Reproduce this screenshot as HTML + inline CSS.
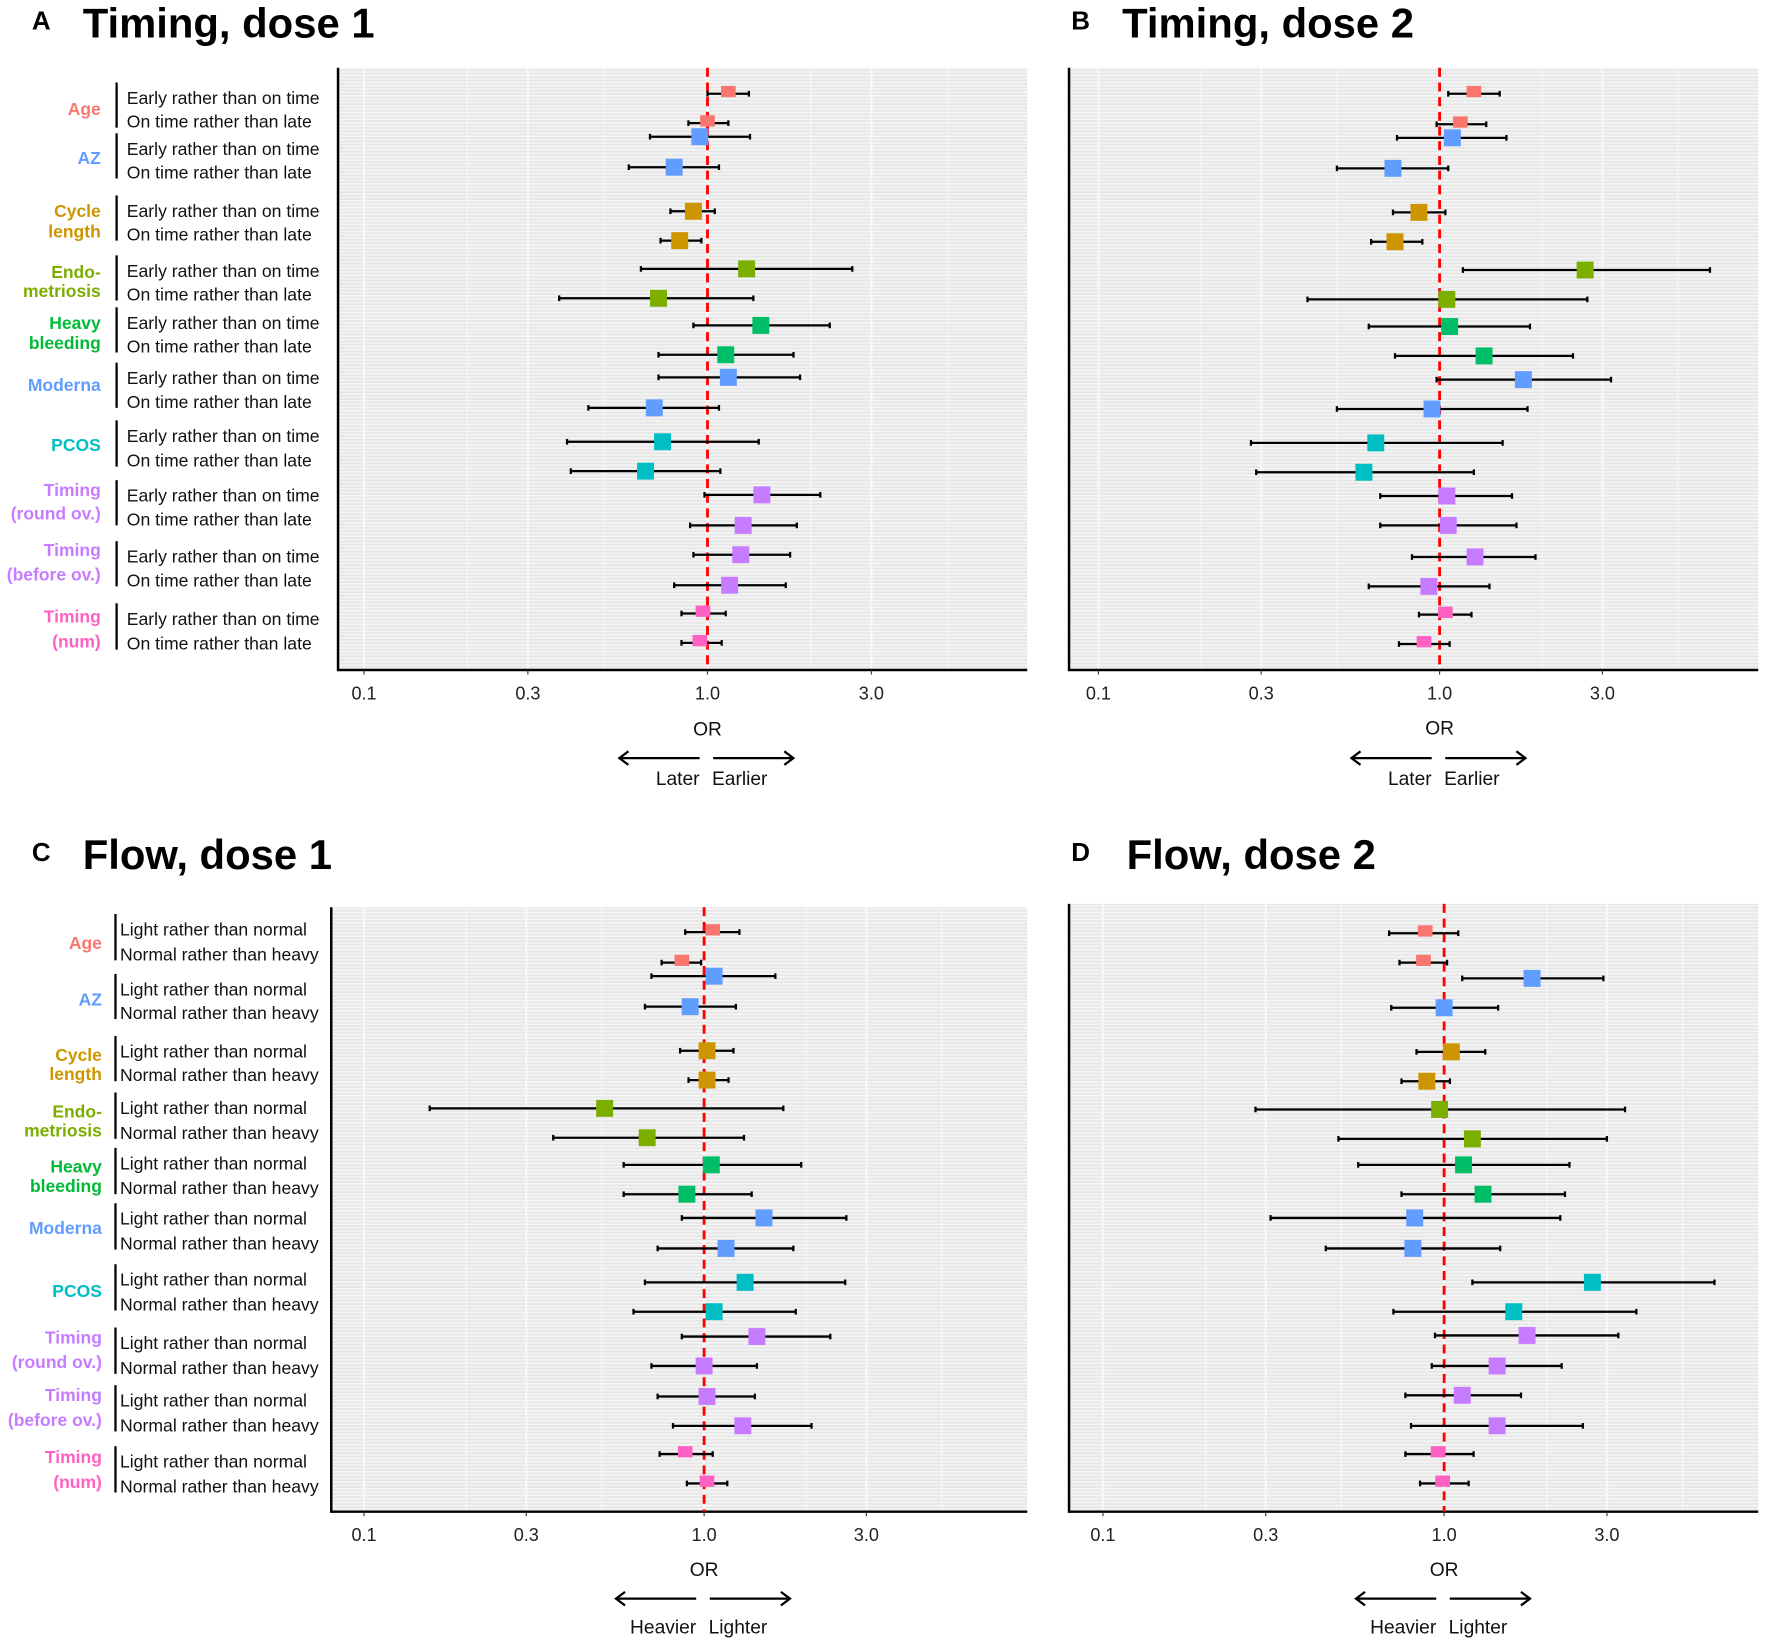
<!DOCTYPE html>
<html><head><meta charset="utf-8"><style>
html,body{margin:0;padding:0;background:#fff}
svg{display:block;font-family:"Liberation Sans",Arial,sans-serif}
</style></head><body>
<svg id="fig" width="1772" height="1645" viewBox="0 0 1568 1456" xmlns="http://www.w3.org/2000/svg">
<defs>
<pattern id="stripes" width="10" height="3" patternUnits="userSpaceOnUse">
<rect width="10" height="3" fill="#e6e6e6"/><rect width="10" height="1.4" fill="#f5f5f5"/>
</pattern>
</defs>
</svg>
<script>
const groups = ["Age","AZ","Cycle length","Endo-metriosis","Heavy bleeding","Moderna","PCOS","Timing (round ov.)","Timing (before ov.)","Timing (num)"];
const groupColors = ["#F8766D","#619CFF","#CD9600","#7CAE00","#00BA38","#619CFF","#00BFC4","#C77CFF","#C77CFF","#FF61C3"];
const markColors = ["#F8766D","#619CFF","#CD9600","#7CAE00","#00BE67","#619CFF","#00BFC4","#C77CFF","#C77CFF","#FF61C3"];
const ticks = [0.1,0.3,1.0,3.0];
const tickLabels = ["0.1","0.3","1.0","3.0"];
const timingRows = ["Early rather than on time","On time rather than late"];
const flowRows = ["Light rather than normal","Normal rather than heavy"];
// OR, lower, upper for each of 20 rows (group x 2)
const orA = [1.15,1.0,0.95,0.80,0.91,0.83,1.30,0.72,1.43,1.13,1.15,0.70,0.74,0.66,1.44,1.27,1.25,1.16,0.97,0.95];
const loA = [1.0,0.88,0.68,0.59,0.78,0.73,0.64,0.37,0.91,0.72,0.72,0.45,0.39,0.40,0.98,0.89,0.91,0.80,0.84,0.84];
const hiA = [1.32,1.15,1.33,1.08,1.05,0.96,2.64,1.36,2.27,1.78,1.86,1.08,1.41,1.09,2.13,1.82,1.74,1.69,1.13,1.10];
const orB = [1.26,1.15,1.09,0.73,0.87,0.74,2.67,1.05,1.07,1.35,1.76,0.95,0.65,0.60,1.05,1.06,1.27,0.93,1.04,0.90];
const loB = [1.06,0.98,0.75,0.50,0.73,0.63,1.17,0.41,0.62,0.74,0.98,0.50,0.28,0.29,0.67,0.67,0.83,0.62,0.87,0.76];
const hiB = [1.50,1.37,1.57,1.06,1.04,0.89,6.2,2.71,1.84,2.46,3.18,1.81,1.53,1.26,1.63,1.68,1.91,1.40,1.24,1.07];
const orC = [1.06,0.86,1.07,0.91,1.02,1.02,0.51,0.68,1.05,0.89,1.50,1.16,1.32,1.07,1.43,1.00,1.02,1.30,0.88,1.02];
const loC = [0.88,0.75,0.70,0.67,0.85,0.90,0.156,0.36,0.58,0.58,0.86,0.73,0.67,0.62,0.86,0.70,0.73,0.81,0.74,0.89];
const hiC = [1.27,0.98,1.62,1.24,1.22,1.18,1.71,1.31,1.93,1.38,2.62,1.83,2.60,1.86,2.35,1.43,1.41,2.07,1.06,1.17];
const orD = [0.88,0.87,1.81,1.00,1.05,0.89,0.97,1.21,1.14,1.30,0.82,0.81,2.72,1.60,1.75,1.43,1.13,1.43,0.96,0.99];
const loD = [0.69,0.74,1.13,0.70,0.83,0.75,0.28,0.49,0.56,0.75,0.31,0.45,1.21,0.71,0.94,0.92,0.77,0.80,0.77,0.85];
const hiD = [1.10,1.02,2.93,1.44,1.32,1.04,3.39,3.0,2.33,2.26,2.19,1.46,6.2,3.66,3.24,2.21,1.68,2.55,1.22,1.18];

const NS="http://www.w3.org/2000/svg";
const svg=document.getElementById('fig');
function mk(tag,attrs,parent,text){const e=document.createElementNS(NS,tag);for(const k in attrs)e.setAttribute(k,attrs[k]);if(text!==undefined)e.textContent=text;(parent||svg).appendChild(e);return e;}

const panels=[
 {id:"a",letter:"A",title:"Timing, dose 1",lx:28,tx:73,ty:33,x0:299,x1:909,y0:60,y1:593,one:626,dec:304,
  rowsY:[83,109,121,148,187,213,238,264,288,314,334,361,391,417,438,465,491,518,543,569],
  or:orA,lo:loA,hi:hiA,rowLabels:timingRows,labelX:112,labelY:[87,108,132,153,187,208,240,261,286,307,335,356,386,408,439,460,493,514,548,570],
  gx:89,bar:103,dir:["Later","Earlier"],tickY:619,orY:651,arrY:671,dirY:695},
 {id:"b",letter:"B",title:"Timing, dose 2",lx:948,tx:993,ty:33,x0:946,x1:1556,y0:60,y1:593,one:1274,dec:302,
  rowsY:[83,110,122,149,188,214,239,265,289,315,336,362,392,418,439,465,493,519,544,570],
  or:orB,lo:loB,hi:hiB,rowLabels:null,dir:["Later","Earlier"],tickY:619,orY:650,arrY:671,dirY:695},
 {id:"c",letter:"C",title:"Flow, dose 1",lx:28,tx:73,ty:769,x0:293,x1:909,y0:803,y1:1338,one:623,dec:301,
  rowsY:[825,852,864,891,930,956,981,1007,1031,1057,1078,1105,1135,1161,1183,1209,1236,1262,1287,1313],
  or:orC,lo:loC,hi:hiC,rowLabels:flowRows,labelX:106,labelY:[823,845,876,897,931,952,981,1003,1030,1052,1079,1101,1133,1155,1189,1211,1240,1262,1294,1316],
  gx:90,bar:102,dir:["Heavier","Lighter"],tickY:1364,orY:1395,arrY:1415,dirY:1446},
 {id:"d",letter:"D",title:"Flow, dose 2",lx:948,tx:997,ty:769,x0:946,x1:1556,y0:800,y1:1338,one:1278,dec:302,
  rowsY:[826,852,866,892,931,957,982,1008,1031,1057,1078,1105,1135,1161,1182,1209,1235,1262,1287,1313],
  or:orD,lo:loD,hi:hiD,rowLabels:null,dir:["Heavier","Lighter"],tickY:1364,orY:1395,arrY:1415,dirY:1446}
];
const glabA=[[97],[140],[187,205],[241,258],[286,304],[341],[394],[434,455],[487,509],[546,568]];
const glabC=[[835],[885],[934,951],[984,1001],[1033,1050],[1087],[1143],[1184,1206],[1235,1257],[1290,1312]];
const gSplit=[["Age"],["AZ"],["Cycle","length"],["Endo-","metriosis"],["Heavy","bleeding"],["Moderna"],["PCOS"],["Timing","(round ov.)"],["Timing","(before ov.)"],["Timing","(num)"]];

panels.forEach((p,pi)=>{
 const g=mk('g',{});
 
 
 const X=v=>p.one+p.dec*Math.log10(v);
 const L=mk('text',{x:p.lx,y:p.ty-7,'font-size':23,'font-weight':'bold'},g,p.letter);
  
 const T=mk('text',{x:p.tx,y:p.ty,'font-size':37,'font-weight':'bold'},g,p.title);
  
 const bg=mk('rect',{x:p.x0,y:p.y0,width:p.x1-p.x0,height:p.y1-p.y0,fill:'url(#stripes)'},g);
  
 const minors=[0.2,0.5,2,5];
 minors.concat(ticks).forEach(v=>{mk('line',{x1:X(v),x2:X(v),y1:p.y0,y2:p.y1,stroke:'#f7f7f7','stroke-width':ticks.includes(v)?2:1},g);});
 const ax=mk('path',{d:`M${p.x0},${p.y0} V${p.y1} H${p.x1}`,fill:'none',stroke:'#000','stroke-width':2.2},g);
  
 ticks.forEach((v,i)=>{
  mk('line',{x1:X(v),x2:X(v),y1:p.y1,y2:p.y1+4,stroke:'#333','stroke-width':1},g);
  const t=mk('text',{x:X(v),y:p.tickY,'font-size':16,'text-anchor':'middle',fill:'#222'},g,tickLabels[i]);
   
 });
 const ref=mk('line',{x1:X(1),x2:X(1),y1:p.y0,y2:p.y1,stroke:'#ff0000','stroke-width':2.5,'stroke-dasharray':'8,5'},g);
  
 p.or.forEach((v,i)=>{
  const y=p.rowsY[i], gi=Math.floor(i/2);
  const ci=mk('g',{},g);
  
  
  const a=X(p.lo[i]),b=X(p.hi[i]);
  mk('line',{x1:a,x2:b,y1:y,y2:y,stroke:'#000','stroke-width':2},ci);
  mk('line',{x1:a,x2:a,y1:y-2.5,y2:y+2.5,stroke:'#000','stroke-width':2},ci);
  mk('line',{x1:b,x2:b,y1:y-2.5,y2:y+2.5,stroke:'#000','stroke-width':2},ci);
  const small=(gi===0||gi===9);
  const w=small?13:15,h=small?10:15;
  const sq=mk('rect',{x:X(v)-w/2,y:y-h/2-(small?2:0),width:w,height:h,fill:markColors[gi]},ci);
   
 });
 if(p.rowLabels){
  const gl=pi===0?glabA:glabC;
  groups.forEach((gname,gi)=>{
   const y1=p.labelY[gi*2]-14,y2=p.labelY[gi*2+1]+5;
   const br=mk('line',{x1:p.bar,x2:p.bar,y1:y1,y2:y2,stroke:'#000','stroke-width':2},g);
    
   gSplit[gi].forEach((s,k)=>{
    const t=mk('text',{x:p.gx,y:gl[gi][k]+5,'font-size':15.5,'font-weight':'bold','text-anchor':'end',fill:groupColors[gi]},g,s);
     
   });
   for(let k=0;k<2;k++){
    const t=mk('text',{x:p.labelX,y:p.labelY[gi*2+k]+5,'font-size':15.6,fill:'#111'},g,p.rowLabels[k]);
     
   }
  });
 }
 const ot=mk('text',{x:X(1),y:p.orY,'font-size':17,'text-anchor':'middle',fill:'#111'},g,'OR');
  
 const cx=X(1);
 const ar=mk('g',{fill:'none',stroke:'#000','stroke-width':2},g);
  
 mk('path',{d:`M${cx-7},${p.arrY} H${cx-78} M${cx-70},${p.arrY-6} L${cx-78},${p.arrY} L${cx-70},${p.arrY+6}`},ar);
 mk('path',{d:`M${cx+5},${p.arrY} H${cx+76} M${cx+68},${p.arrY-6} L${cx+76},${p.arrY} L${cx+68},${p.arrY+6}`},ar);
 const d1=mk('text',{x:cx-7,y:p.dirY,'font-size':17,'text-anchor':'end',fill:'#111'},g,p.dir[0]);
  
 const d2=mk('text',{x:cx+4,y:p.dirY,'font-size':17,fill:'#111'},g,p.dir[1]);
  
});
</script>
</body></html>
